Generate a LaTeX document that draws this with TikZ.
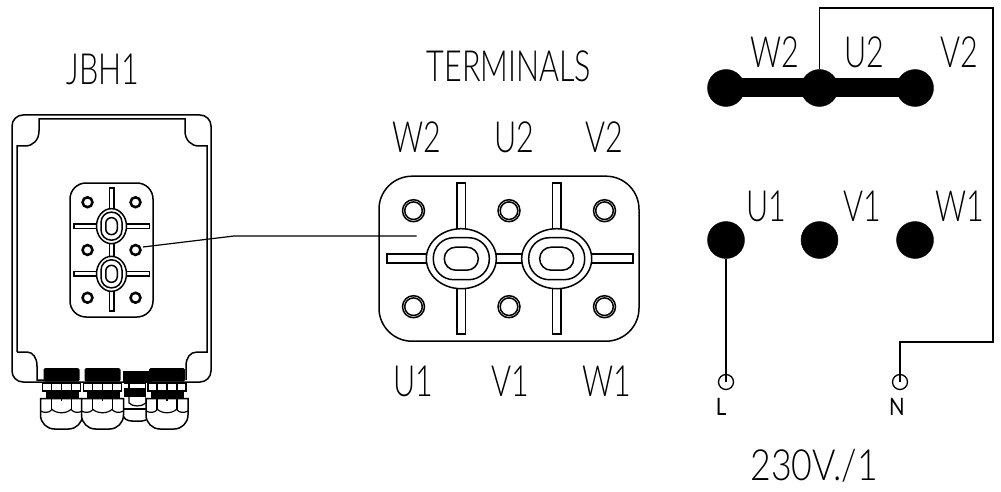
\documentclass[tikz,border=0pt]{standalone}
\usepackage{fontspec}
\setmainfont{Lato}[UprightFont=* Light,FakeStretch=0.71]
\newfontfamily\smallfont{Lato}[FakeStretch=0.85]
\tikzset{
  x=1pt,y=-1pt,
  line/.style={draw=black,line width=1.5pt},
  thin line/.style={draw=black,line width=1.2pt},
  lbl/.style={inner sep=0pt,font=\fontsize{43}{43}\selectfont},
  smalllbl/.style={inner sep=0pt,font=\smallfont\fontsize{24}{24}\selectfont},
  terminal/.style={circle,fill=black,draw=black,minimum size=37pt,inner sep=0pt},
  feed/.style={circle,draw=black,line width=1.3pt,minimum size=15pt,inner sep=0pt},
}
% plate: #1 scope options, #2 half length, #3 half height, #4 corner radius, #5 scale of rounding
\newcommand{\plateshape}[5]{%
\begin{scope}[#1]
  \draw[line,rounded corners=#4] (-#2,-#3) rectangle (#2,#3);
  \foreach \hx in {-95.5,0,95.5}\foreach \hy in {-48,48}{
    \draw[line] (\hx,\hy) circle[radius=11];
    \draw[line] (\hx,\hy) circle[radius=8.8];
  }
  \draw[line] (-122,-4.5) rectangle (124,4.5);
  \foreach \ox in {-47.7,47.7}{
    \draw[line] (\ox-4.3,-75.5) rectangle (\ox+4.3,75.5);
    \draw[line,fill=white] (\ox,0) ellipse[x radius=35,y radius=30];
    \draw[line,rounded corners=#5*20.5] (\ox-28,-21) rectangle (\ox+28,21);
    \draw[line,rounded corners=#5*11.4] (\ox-17,-11.5) rectangle (\ox+17,11.5);
  }
\end{scope}}
% cable gland: #1 centre x
\newcommand{\glandshape}[1]{%
\begin{scope}[xshift=#1pt]
  \fill[white] (-21,383) rectangle (21,429);
  \fill[black,rounded corners=1.5] (-18,368) rectangle (18,381.5);
  \draw[thin line] (-19,383) rectangle (19,391);
  \foreach \vx in {-10,0,10}\draw[thin line] (\vx,383) -- (\vx,391);
  \fill[black] (-16,391) rectangle (17,398);
  \draw[line,fill=white] (-21,398.5) -- (21,398.5) -- (21,415) arc[start angle=0,end angle=90,radius=14] -- (-7,429) arc[start angle=90,end angle=180,radius=14] -- cycle;
  \draw[thin line] (-10,398) -- (-10,410) (10,398) -- (10,410) (0,398) -- (0,401);
  \draw[thin line] (-21,411) .. controls (-17,413) and (-13,413) .. (-10,410);
  \draw[thin line] (21,411) .. controls (17,413) and (13,413) .. (10,410);
  \draw[thin line] (-10,409) .. controls (-5,414) and (5,414) .. (10,409);
\end{scope}}
\begin{document}
\begin{tikzpicture}
\useasboundingbox (0,0) rectangle (1001,492);

% ---- enclosure
\draw[line,rounded corners=11] (12,382) -- (12,115) -- (211,115) -- (211,382) -- cycle;
\draw[line] (17,352) -- (17,146) -- (25,146) .. controls (33,146) and (39,140) .. (39,131) -- (39,119) -- (185,119) -- (185,131) .. controls (185,140) and (191,146) .. (199,146) -- (207,146) -- (207,352) -- (197,352) .. controls (190,352) and (186,358) .. (186,366) -- (186,380);
\draw[line] (17,352) -- (27,352) .. controls (33,352) and (37,358) .. (37,366) -- (37,380) -- (44,380);

% ---- glands
\begin{scope}
  \fill[white] (122,383) rectangle (154,422);
  \fill[black] (123,371) rectangle (152,382);
  \draw[thin line] (122,383) rectangle (152,389);
  \foreach \vx in {129,146}\draw[thin line] (\vx,383) -- (\vx,389);
  \fill[black] (123,389) rectangle (152,397);
  \draw[line] (122,397) -- (122,412) .. controls (123,419) and (127,421) .. (132,421) -- (142,421) .. controls (147,421) and (153,416) .. (154,408) -- (154,397);
  \draw[thin line] (122,409) -- (154,409);
  \draw[thin line] (129,397) -- (129,403) .. controls (133,407) and (141,407) .. (146,403) -- (146,397);
\end{scope}
\glandshape{61.5}
\glandshape{102.5}
\glandshape{167}

% ---- plate in enclosure
\plateshape{shift={(111.5,250)},rotate=90,scale=.5}{134}{83}{16}{.5}

% ---- terminal plate
\plateshape{shift={(509,258.7)}}{130}{82.5}{33}{1}

% ---- leader
\coordinate (leadA) at (143,247);
\coordinate (leadB) at (234,236);
\coordinate (leadC) at (416.5,236);
\draw[thin line] (leadA) -- (leadB) -- (leadC);

% ---- wiring
\node[terminal] (tw2) at (726,88) {};
\node[terminal] (tu2) at (819.5,88) {};
\node[terminal] (tv2) at (915,88) {};
\node[terminal] (tu1) at (726,240) {};
\node[terminal] (tv1) at (819.5,240) {};
\node[terminal] (tw1) at (915,240) {};
\node[feed] (fl) at (726,382) {};
\node[feed] (fn) at (900,382) {};
\draw[black,line width=19pt] (tw2.center) -- (tu2.center) -- (tv2.center);
\coordinate (wireA) at (819.5,8);
\coordinate (wireB) at (993,8);
\coordinate (wireC) at (993,342);
\coordinate (wireD) at (900,342);
\draw[line,line join=miter] (tu2) -- (wireA) -- (wireB) -- (wireC) -- (wireD) -- (fn.center);
\draw[line] (tu1) -- (fl.center);

% ---- labels
\node[lbl] (tjbh) at (103,69) {JBH1};
\node[lbl] (tterm) at (509,66) {TERMINALS};
\node[lbl] (a1) at (417,137) {W2};
\node[lbl] (a2) at (514,137) {U2};
\node[lbl] (a3) at (604,137) {V2};
\node[lbl] (b1) at (413,381) {U1};
\node[lbl] (b2) at (510,381) {V1};
\node[lbl] (b3) at (607,381) {W1};
\node[lbl] (c1) at (775,52) {W2};
\node[lbl] (c2) at (864,52) {U2};
\node[lbl] (c3) at (959,52) {V2};
\node[lbl] (d1) at (766,206) {U1};
\node[lbl] (d2) at (862,206) {V1};
\node[lbl] (d3) at (960,206) {W1};
\node[smalllbl] (ll) at (721,407) {L};
\node[smalllbl] (ln) at (897,407) {N};
\node[lbl] (volt) at (814,466) {\scalebox{1.17}[1]{230V./1}};
\end{tikzpicture}
\end{document}
